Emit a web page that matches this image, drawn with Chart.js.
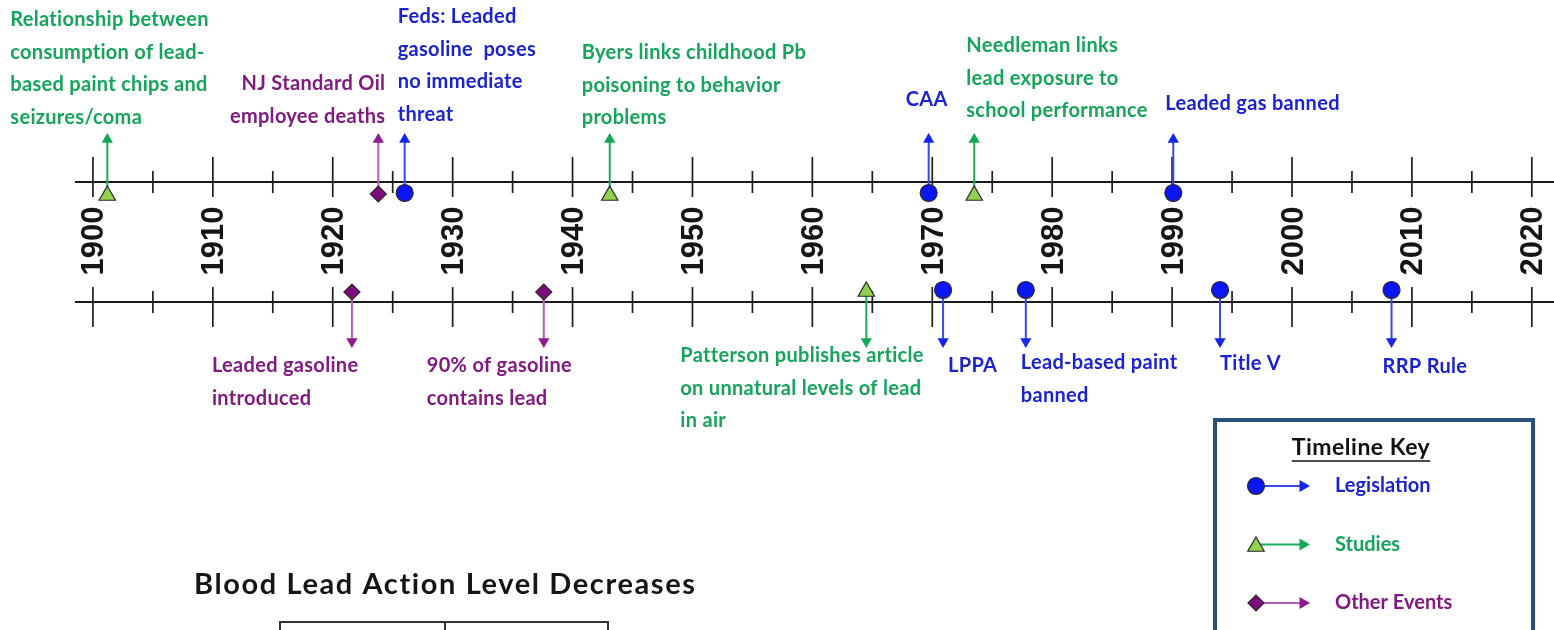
<!DOCTYPE html>
<html>
<head>
<meta charset="utf-8">
<script src="https://cdn.jsdelivr.net/npm/chart.js@4.4.1/dist/chart.umd.min.js"></script>
<style>
  html, body { margin: 0; padding: 0; background: #fff; }
  #timeline { display: block; }
</style>
</head>
<body>
<canvas id="timeline" width="1554" height="630"></canvas>
<script>
// decade labels and the 5-year marks between them
const decadeLabels = ['1900', '1910', '1920', '1930', '1940', '1950', '1960', '1970', '1980', '1990', '2000', '2010', '2020'];
const halfDecades = [1905, 1915, 1925, 1935, 1945, 1955, 1965, 1975, 1985, 1995, 2005, 2015];

// events
const eventYears = [1901.2, 1923.8, 1926, 1943.1, 1969.7, 1973.5, 1990.1,
                    1921.6, 1937.6, 1964.5, 1970.9, 1977.8, 1994, 2008.3];
const eventTypes = ['studies', 'other', 'legislation', 'studies', 'legislation', 'studies', 'legislation',
                    'other', 'other', 'studies', 'legislation', 'legislation', 'legislation', 'legislation'];
const eventSides = ['above', 'above', 'above', 'above', 'above', 'above', 'above',
                    'below', 'below', 'below', 'below', 'below', 'below', 'below'];
const eventTexts = [
  ['Relationship between', 'consumption of lead-', 'based paint chips and', 'seizures/coma'],
  ['NJ Standard Oil', 'employee deaths'],
  ['Feds: Leaded', 'gasoline  poses', 'no immediate', 'threat'],
  ['Byers links childhood Pb', 'poisoning to behavior', 'problems'],
  ['CAA'],
  ['Needleman links', 'lead exposure to', 'school performance'],
  ['Leaded gas banned'],
  ['Leaded gasoline', 'introduced'],
  ['90% of gasoline', 'contains lead'],
  ['Patterson publishes article', 'on unnatural levels of lead', 'in air'],
  ['LPPA'],
  ['Lead-based paint', 'banned'],
  ['Title V'],
  ['RRP Rule']
];
const keyTypes = ['legislation', 'studies', 'other'];
const keyLabels = ['Legislation', 'Studies', 'Other Events'];
const tableTitle = 'Blood Lead Action Level Decreases';

// layout (pixels)
const TOP_AXIS = 182, BOTTOM_AXIS = 302, YEAR_ROW = 241;
const TIP_ABOVE = 133, TIP_BELOW = 348, HEAD_R = 6.5;
const LINE_H = 32.5;
// label anchor: dx from the event pixel, y of first line
const labelPos = [
  { dx: -97, y: 20 }, { dx: 7, y: 84, align: 'right' }, { dx: -7, y: 17 }, { dx: -28, y: 53 },
  { dx: -2, y: 100, align: 'center' }, { dx: -8, y: 46 }, { dx: -8, y: 104 },
  { dx: -140, y: 366 }, { dx: -117, y: 366 }, { dx: -186, y: 356 }, { dx: 5, y: 366 },
  { dx: -5, y: 363 }, { dx: 0, y: 364 }, { dx: -9, y: 367 }
];
const styles = {
  legislation: { point: 'circle', radius: 8.5, fill: '#0b17f2', line: '#3a48e4', head: '#1526ea', text: '#1b22cf', offA: 11, offB: 12 },
  studies: { point: 'triangle', radius: 9.5, fill: '#92d050', line: '#1aac5c', head: '#12a855', text: '#14a45a', offA: 13.5, offB: 10.5 },
  other: { point: 'rectRot', radius: 8, fill: '#7d0b7d', line: '#b65cbd', head: '#8e1a8e', text: '#811a80', offA: 12, offB: 10 }
};
const LABEL_FONT = 'bold 20px Lato, "Open Sans", sans-serif';

function markerY(i) {
  const s = styles[eventTypes[i]];
  return eventSides[i] === 'above' ? TOP_AXIS + s.offA : BOTTOM_AXIS - s.offB;
}

const datasets = [];
keyTypes.forEach(t => {
  const s = styles[t];
  const idx = eventYears.map((_, i) => i).filter(i => eventTypes[i] === t);
  datasets.push({
    order: 0,
    data: idx.map(i => ({ x: eventYears[i], y: markerY(i) })),
    pointStyle: s.point, pointRadius: s.radius, backgroundColor: s.fill,
    borderColor: '#2a2a2a', borderWidth: 1.2
  });
  datasets.push({
    order: 1,
    data: idx.map(i => ({ x: eventYears[i], y: eventSides[i] === 'above' ? TIP_ABOVE + HEAD_R : TIP_BELOW - HEAD_R })),
    pointStyle: 'triangle', pointRadius: HEAD_R, backgroundColor: s.head, borderWidth: 0,
    pointRotation: idx.map(i => eventSides[i] === 'above' ? 0 : 180)
  });
  const segs = [];
  idx.forEach(i => {
    const end = eventSides[i] === 'above' ? TIP_ABOVE + HEAD_R : TIP_BELOW - HEAD_R;
    segs.push({ x: eventYears[i], y: markerY(i) }, { x: eventYears[i], y: end }, { x: eventYears[i], y: null });
  });
  datasets.push({
    order: 2, data: segs, showLine: true, spanGaps: false, pointRadius: 0,
    borderColor: s.line, borderWidth: 2
  });
});

// tick marks on both axes
const tickSegs = [];
[TOP_AXIS, BOTTOM_AXIS].forEach((ay, k) => {
  const dir = k === 0 ? 1 : -1;
  decadeLabels.forEach(l => {
    tickSegs.push({ x: +l, y: ay - 25 * dir }, { x: +l, y: ay + 15 * dir }, { x: +l, y: null });
  });
  halfDecades.forEach(yr => {
    tickSegs.push({ x: yr, y: ay - 11 }, { x: yr, y: ay + 11 }, { x: yr, y: null });
  });
});
datasets.push({
  order: 3, data: tickSegs, showLine: true, spanGaps: false, pointRadius: 0,
  borderColor: '#1e1e1e', borderWidth: 1.7
});
[TOP_AXIS, BOTTOM_AXIS].forEach(ay => {
  datasets.push({
    order: 4, data: [{ x: 1898.5, y: ay }, { x: 2022, y: ay }], showLine: true, pointRadius: 0,
    borderColor: '#1a1a1a', borderWidth: 1.8
  });
});

const overlay = {
  id: 'overlay',
  afterDatasetsDraw(chart) {
    const ctx = chart.ctx;
    const xs = chart.scales.x;
    ctx.save();

    // decade labels between the two axes
    ctx.font = 'bold 31px "Liberation Sans", Arial, sans-serif';
    ctx.fillStyle = '#151515';
    ctx.textAlign = 'center';
    ctx.textBaseline = 'middle';
    decadeLabels.forEach(l => {
      ctx.save();
      ctx.translate(xs.getPixelForValue(+l) + 2, YEAR_ROW);
      ctx.rotate(-Math.PI / 2);
      ctx.fillText(l, 0, 0);
      ctx.restore();
    });

    // event texts
    ctx.font = LABEL_FONT;
    ctx.letterSpacing = '0.3px';
    eventTexts.forEach((lines, i) => {
      const p = labelPos[i];
      ctx.fillStyle = styles[eventTypes[i]].text;
      ctx.textAlign = p.align || 'left';
      const px = xs.getPixelForValue(eventYears[i]) + p.dx;
      lines.forEach((ln, k) => ctx.fillText(ln, px, p.y + k * LINE_H));
    });

    // timeline key
    ctx.strokeStyle = '#27507a';
    ctx.lineWidth = 4;
    ctx.strokeRect(1215, 420, 318, 240);
    ctx.fillStyle = '#111';
    ctx.font = 'bold 23px Lato, sans-serif';
    ctx.letterSpacing = '0.5px';
    ctx.textAlign = 'center';
    ctx.fillText('Timeline Key', 1361, 448);
    const tw = ctx.measureText('Timeline Key').width;
    ctx.lineWidth = 1.6;
    ctx.strokeStyle = '#111';
    ctx.beginPath();
    ctx.moveTo(1361 - tw / 2, 461);
    ctx.lineTo(1361 + tw / 2, 461);
    ctx.stroke();
    ctx.textAlign = 'left';
    ctx.font = LABEL_FONT;
    ctx.letterSpacing = '0px';
    keyTypes.forEach((t, k) => {
      const s = styles[t];
      const y = 486 + k * 58.5;
      ctx.strokeStyle = s.line;
      ctx.lineWidth = 2;
      ctx.beginPath();
      ctx.moveTo(1256, y);
      ctx.lineTo(1300, y);
      ctx.stroke();
      ctx.fillStyle = s.head;
      Chart.helpers.drawPoint(ctx, { pointStyle: 'triangle', radius: 7, rotation: 90, borderWidth: 0 }, 1303, y);
      ctx.fillStyle = s.fill;
      ctx.strokeStyle = '#2a2a2a';
      ctx.lineWidth = 1.2;
      Chart.helpers.drawPoint(ctx, { pointStyle: s.point, radius: s.radius, rotation: 0, borderWidth: 1.2 }, 1256, y + (t === 'studies' ? 2 : 0));
      ctx.fillStyle = s.text;
      ctx.fillText(keyLabels[k], 1335, y);
    });

    // table heading and top of the table
    ctx.fillStyle = '#151515';
    ctx.font = 'bold 29px Lato, sans-serif';
    ctx.letterSpacing = '1.6px';
    ctx.textAlign = 'left';
    ctx.fillText(tableTitle, 194, 585);
    ctx.letterSpacing = '0px';
    ctx.strokeStyle = '#333';
    ctx.lineWidth = 2;
    ctx.beginPath();
    ctx.moveTo(280, 640); ctx.lineTo(280, 622); ctx.lineTo(608, 622); ctx.lineTo(608, 640);
    ctx.moveTo(445, 622); ctx.lineTo(445, 640);
    ctx.stroke();
    ctx.restore();
  }
};

new Chart(document.getElementById('timeline'), {
  type: 'scatter',
  data: { datasets },
  options: {
    responsive: false,
    animation: false,
    devicePixelRatio: 1,
    events: [],
    layout: { padding: 0, autoPadding: false },
    plugins: { legend: { display: false }, tooltip: { enabled: false } },
    scales: {
      x: { type: 'linear', min: 1892.25, max: 2021.85, display: false },
      y: { type: 'linear', min: 0, max: 630, reverse: true, display: false }
    }
  },
  plugins: [overlay]
});
</script>
</body>
</html>
